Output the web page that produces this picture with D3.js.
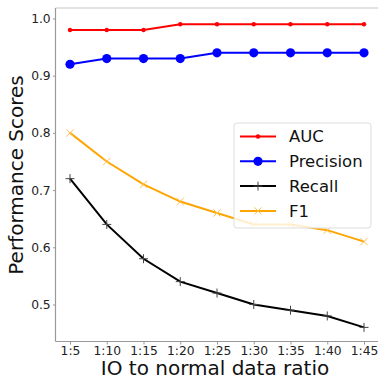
<!DOCTYPE html>
<html><head><meta charset="utf-8">
<script src="https://cdn.jsdelivr.net/npm/d3@7"></script>
<style>body{margin:0;background:#fff}svg{display:block;font-family:"DejaVu Sans",sans-serif}</style>
</head><body><svg id="c" width="378" height="381"></svg>
<script>
const categories = ["1:5","1:10","1:15","1:20","1:25","1:30","1:35","1:40","1:45"];
const auc       = [0.98,0.98,0.98,0.99,0.99,0.99,0.99,0.99,0.99];
const precision = [0.92,0.93,0.93,0.93,0.94,0.94,0.94,0.94,0.94];
const recall    = [0.72,0.64,0.58,0.54,0.52,0.50,0.49,0.48,0.46];
const f1        = [0.80,0.75,0.71,0.68,0.66,0.64,0.64,0.63,0.61];
const yTicks    = [0.5,0.6,0.7,0.8,0.9,1.0];
const seriesNames = ["AUC","Precision","Recall","F1"];

const svg = d3.select("#c");
const L = 55.5, R = 378.5, T = 8, B = 341.5;
const x = d3.scalePoint().domain(categories).range([70, 364]);
const y = d3.scaleLinear().domain([0.5, 1.0]).range([304.5, 18.5]);

const series = [
  {name:"AUC", vals:auc, color:"red", marker:"dot"},
  {name:"Precision", vals:precision, color:"blue", marker:"circle"},
  {name:"Recall", vals:recall, color:"black", marker:"plus"},
  {name:"F1", vals:f1, color:"orange", marker:"x"}
];

// spines
svg.append("line").attr("x1",L).attr("x2",R).attr("y1",T).attr("y2",T).attr("stroke","#c8c8c8").attr("stroke-width",1.2);
svg.append("line").attr("x1",L).attr("x2",L).attr("y1",T).attr("y2",B).attr("stroke","#999").attr("stroke-width",1.2);
svg.append("line").attr("x1",L).attr("x2",R).attr("y1",B).attr("y2",B).attr("stroke","#999").attr("stroke-width",1.2);

// axes
const xAxis = d3.axisBottom(x).tickSize(3).tickPadding(1.8);
const gx = svg.append("g").attr("transform",`translate(0,${B})`).call(xAxis);
gx.select(".domain").remove();
gx.selectAll("line").attr("stroke","#999");
gx.selectAll("text").attr("font-size",12.3).attr("fill","#222").attr("font-family","DejaVu Sans");

const yAxis = d3.axisLeft(y).tickValues(yTicks).tickFormat(d3.format(".1f")).tickSize(2.5).tickPadding(2.3);
const gy = svg.append("g").attr("transform",`translate(${L},0)`).call(yAxis);
gy.select(".domain").remove();
gy.selectAll("line").attr("stroke","#999");
gy.selectAll("text").attr("font-size",12.3).attr("fill","#222").attr("font-family","DejaVu Sans");

// labels
svg.append("text").attr("x",(L+R)/2 - 2).attr("y",374.5).attr("text-anchor","middle")
  .attr("font-size",20).attr("fill","#111").text("IO to normal data ratio");
svg.append("text").attr("transform","translate(22.5,175) rotate(-90)").attr("text-anchor","middle")
  .attr("font-size",20).attr("fill","#111").text("Performance Scores");

function drawMarker(g, type, color, cx, cy){
  if(type==="dot") g.append("circle").attr("cx",cx).attr("cy",cy).attr("r",2.2).attr("fill",color);
  else if(type==="circle") g.append("circle").attr("cx",cx).attr("cy",cy).attr("r",4.6).attr("fill",color);
  else if(type==="plus"){
    const s=4.5;
    g.append("path").attr("d",`M${cx-s},${cy}H${cx+s}M${cx},${cy-s}V${cy+s}`).attr("stroke","#444").attr("stroke-width",1);
  } else if(type==="x"){
    const s=3.6;
    g.append("path").attr("d",`M${cx-s},${cy-s}L${cx+s},${cy+s}M${cx-s},${cy+s}L${cx+s},${cy-s}`).attr("stroke","#ffc04d").attr("stroke-width",1);
  }
}

const line = d3.line().x((d,i)=>x(categories[i])).y(d=>y(d));
series.forEach(s=>{
  const g = svg.append("g");
  g.append("path").datum(s.vals).attr("d",line).attr("fill","none").attr("stroke",s.color).attr("stroke-width",2);
  s.vals.forEach((v,i)=>drawMarker(g, s.marker, s.color, x(categories[i]), y(v)));
});

// legend
const lg = svg.append("g");
lg.append("rect").attr("x",234).attr("y",123).attr("width",137).attr("height",105).attr("rx",3)
  .attr("fill","white").attr("fill-opacity",0.8).attr("stroke","#ddd").attr("stroke-width",1);
series.forEach((s,i)=>{
  const cy = 136.5 + i*24.8;
  lg.append("line").attr("x1",240).attr("x2",276).attr("y1",cy).attr("y2",cy).attr("stroke",s.color).attr("stroke-width",2);
  drawMarker(lg, s.marker, s.color, 258, cy);
  lg.append("text").attr("x",289).attr("y",cy).attr("dy","0.36em").attr("font-size",16.5).attr("fill","#111").text(seriesNames[i]);
});
</script></body></html>
